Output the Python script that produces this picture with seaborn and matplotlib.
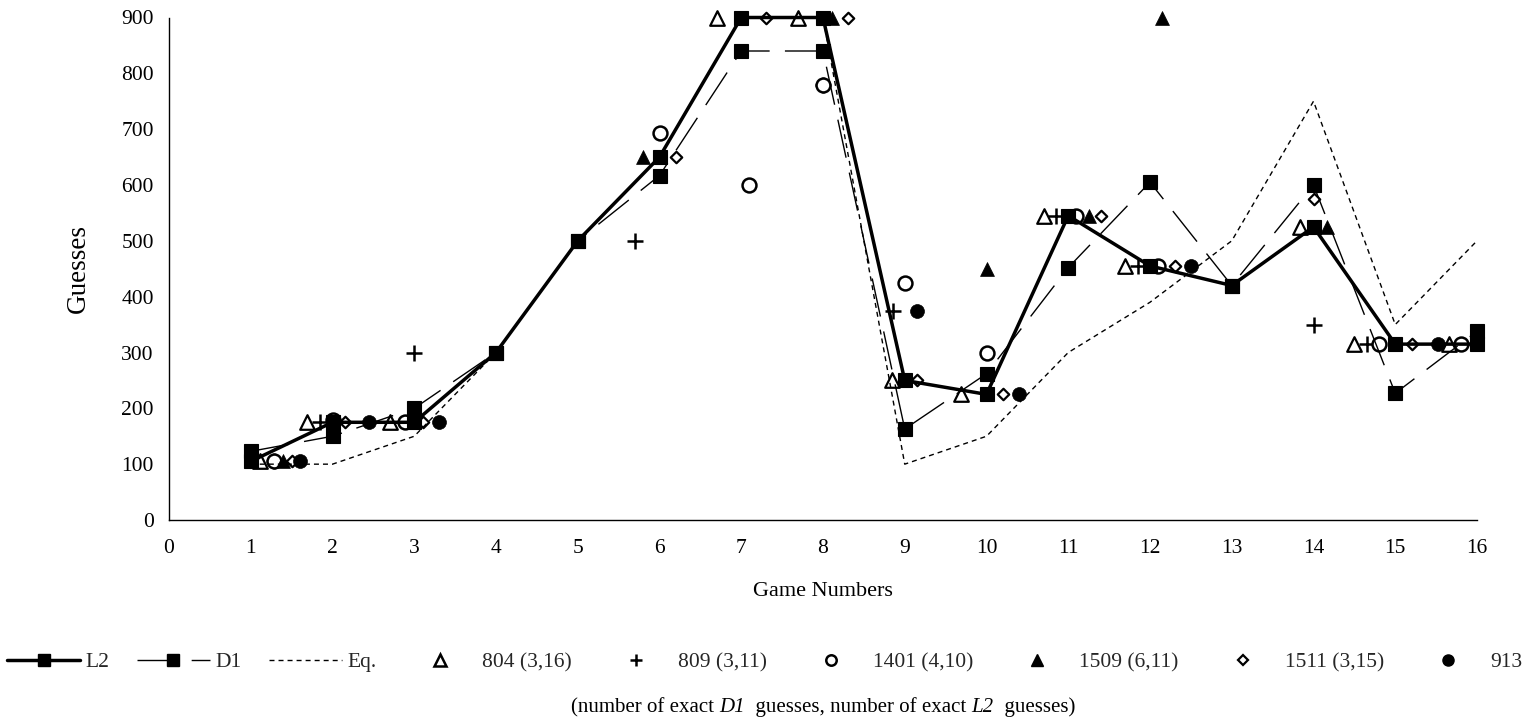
import matplotlib
matplotlib.use("Agg")
import matplotlib.pyplot as plt
from matplotlib.lines import Line2D
import numpy as np
import pandas as pd
import seaborn as sns

# ---------------- data ----------------
games = list(range(1, 17))
l2_guess = [105, 175, 175, 300, 500, 650, 900, 900, 250, 225, 545, 455, 420, 525, 315, 315]
d1_guess = [123, 150, 200, 300, 500, 617, 840, 840, 163, 262, 452, 605, 420, 600, 227, 338]
eq_guess = [100, 100, 150, 300, 500, 650, 900, 900, 100, 150, 300, 390, 500, 750, 350, 500]

# subjects (x = game number, slightly offset as in the original chart)
s804_x = [1.11, 1.69, 2.70, 6.70, 7.70, 8.85, 9.69, 10.70, 11.70, 13.84, 14.50, 15.66]
s804_y = [105, 175, 175, 900, 900, 250, 225, 545, 455, 525, 315, 315]

s809_x = [1.28, 1.85, 3.00, 5.70, 8.00, 8.86, 10.85, 11.85, 14.00, 14.65]
s809_y = [105, 175, 300, 500, 780, 375, 545, 455, 350, 315]

s1401_x = [1.28, 2.00, 2.89, 6.00, 7.10, 8.00, 9.00, 10.00, 11.10, 12.10, 14.80, 15.80]
s1401_y = [105, 180, 175, 693, 600, 780, 425, 300, 545, 455, 315, 315]

s1509_x = [1.40, 5.80, 8.11, 10.00, 11.25, 12.15, 14.16]
s1509_y = [105, 650, 900, 450, 545, 900, 525]

s1511_x = [1.50, 2.15, 3.11, 6.20, 7.30, 8.30, 9.15, 10.20, 11.40, 12.30, 14.00, 15.20]
s1511_y = [105, 175, 175, 650, 900, 900, 250, 225, 545, 455, 575, 315]

s913_x = [1.60, 2.45, 3.30, 9.15, 10.40, 12.50, 15.52]
s913_y = [105, 175, 175, 375, 225, 455, 315]

legend_labels = ["L2", "D1", "Eq.", "804 (3,16)", "809 (3,11)", "1401 (4,10)",
                 "1509 (6,11)", "1511 (3,15)", "913"]
footnote_parts = [("(number of exact ", "normal"), ("D1", "italic"),
                  ("  guesses, number of exact ", "normal"), ("L2", "italic"),
                  ("  guesses)", "normal")]
x_ticks = list(range(0, 17))
y_ticks = list(range(0, 901, 100))

# ---------------- style ----------------
sns.set_theme(style="white")
plt.rcParams["font.family"] = ["Liberation Serif", "DejaVu Serif"]

FS = 15.5
fig = plt.figure(figsize=(15.37, 7.21), dpi=100)
ax = fig.add_axes([169 / 1537, 1 - 520 / 721, 1308 / 1537, 502.5 / 721])

lines_df = pd.DataFrame({"game": games, "L2": l2_guess, "D1": d1_guess, "Eq": eq_guess})

# scatter subjects (below the lines)
sns.scatterplot(x=s804_x, y=s804_y, ax=ax, marker="^", s=110, color="black",
                facecolor="white", edgecolor="black", linewidth=1.6, clip_on=False, zorder=3)
sns.scatterplot(x=s809_x, y=s809_y, ax=ax, marker="+", s=120, color="black",
                linewidth=1.8, clip_on=False, zorder=3)
sns.scatterplot(x=s1401_x, y=s1401_y, ax=ax, marker="o", s=100, color="black",
                facecolor="white", edgecolor="black", linewidth=1.8, clip_on=False, zorder=3)
sns.scatterplot(x=s1509_x, y=s1509_y, ax=ax, marker="^", s=100, color="black",
                edgecolor="black", linewidth=0.5, clip_on=False, zorder=3)
sns.scatterplot(x=s1511_x, y=s1511_y, ax=ax, marker="D", s=34, color="black",
                facecolor="white", edgecolor="black", linewidth=1.6, clip_on=False, zorder=3)
sns.scatterplot(x=s913_x, y=s913_y, ax=ax, marker="o", s=100, color="black",
                edgecolor="black", linewidth=0.5, clip_on=False, zorder=3)

# lines
sns.lineplot(data=lines_df, x="game", y="Eq", ax=ax, color="black", linewidth=1.0,
             linestyle=(0, (3.6, 2.9)), clip_on=False, zorder=4)
sns.lineplot(data=lines_df, x="game", y="D1", ax=ax, color="black", linewidth=1.0,
             linestyle=(0, (28, 11)), marker="s", markersize=10.5, markeredgewidth=0.8,
             markeredgecolor="black", clip_on=False, zorder=5)
sns.lineplot(data=lines_df, x="game", y="L2", ax=ax, color="black", linewidth=2.5,
             marker="s", markersize=10.5, markeredgewidth=0.8, markeredgecolor="black",
             clip_on=False, zorder=6)

# axes
ax.set_xlim(0, 16)
ax.set_ylim(0, 900)
ax.set_xticks(x_ticks)
ax.set_yticks(y_ticks)
ax.set_xticklabels([str(t) for t in x_ticks])
ax.set_yticklabels([str(t) for t in y_ticks])
for side in ["top", "right"]:
    ax.spines[side].set_visible(False)
for side in ["left", "bottom"]:
    ax.spines[side].set_color("black")
    ax.spines[side].set_linewidth(1.0)
ax.tick_params(axis="both", which="major", direction="out", length=5, width=1,
               color="black", labelsize=FS, labelcolor="black")
ax.tick_params(axis="x", pad=9)
ax.tick_params(axis="y", pad=6)
ax.grid(False)

ax.set_xlabel("Game Numbers", fontsize=FS + 0.5, color="black")
ax.set_ylabel("Guesses", fontsize=FS + 4, color="black")
ax.xaxis.set_label_coords(0.5, -0.124)
ax.yaxis.set_label_coords(-0.060, 0.5)

# legend
handles = [
    Line2D([], [], color="black", linewidth=2.5, marker="s", markersize=8.5),
    Line2D([], [], color="black", linewidth=1.0, linestyle=(0, (28, 11)), marker="s", markersize=8.5),
    Line2D([], [], color="black", linewidth=1.0, linestyle=(0, (3.6, 2.9))),
    Line2D([], [], linestyle="none", marker="^", markersize=8.5, markerfacecolor="white",
           markeredgecolor="black", markeredgewidth=1.8),
    Line2D([], [], linestyle="none", marker="+", markersize=9, color="black", markeredgewidth=1.8),
    Line2D([], [], linestyle="none", marker="o", markersize=7.5, markerfacecolor="white",
           markeredgecolor="black", markeredgewidth=1.8),
    Line2D([], [], linestyle="none", marker="^", markersize=8, markerfacecolor="black",
           markeredgecolor="black"),
    Line2D([], [], linestyle="none", marker="D", markersize=5, markerfacecolor="white",
           markeredgecolor="black", markeredgewidth=1.6),
    Line2D([], [], linestyle="none", marker="o", markersize=8, markerfacecolor="black",
           markeredgecolor="black"),
]
fig.legend(handles, legend_labels, loc="center left", bbox_to_anchor=(7 / 1537, 1 - 662 / 721),
           ncol=9, frameon=False, borderpad=0, borderaxespad=0, handlelength=3.4,
           handletextpad=0.25, columnspacing=1.27, fontsize=FS, numpoints=1)

# footnote with italic parts, centred under the axes
renderer = fig.canvas.get_renderer()
texts = []
prev = None
for part, style in footnote_parts:
    if prev is None:
        t = fig.text(0, 1 - 707 / 721, part, ha="left", va="baseline", fontsize=FS - 0.5,
                     fontstyle=style, color="black")
    else:
        t = fig.text(0, 1 - 707 / 721, part, ha="left", va="baseline", fontsize=FS - 0.5,
                     fontstyle=style, color="black")
    texts.append(t)
    prev = t
widths = [t.get_window_extent(renderer).width for t in texts]
total = sum(widths)
x_px = 823 - total / 2
baseline_y = 1 - 712 / 721
for t, w in zip(texts, widths):
    t.set_position((x_px / 1537, baseline_y))
    x_px += w

fig.savefig("out.png", dpi=100, facecolor="white")
